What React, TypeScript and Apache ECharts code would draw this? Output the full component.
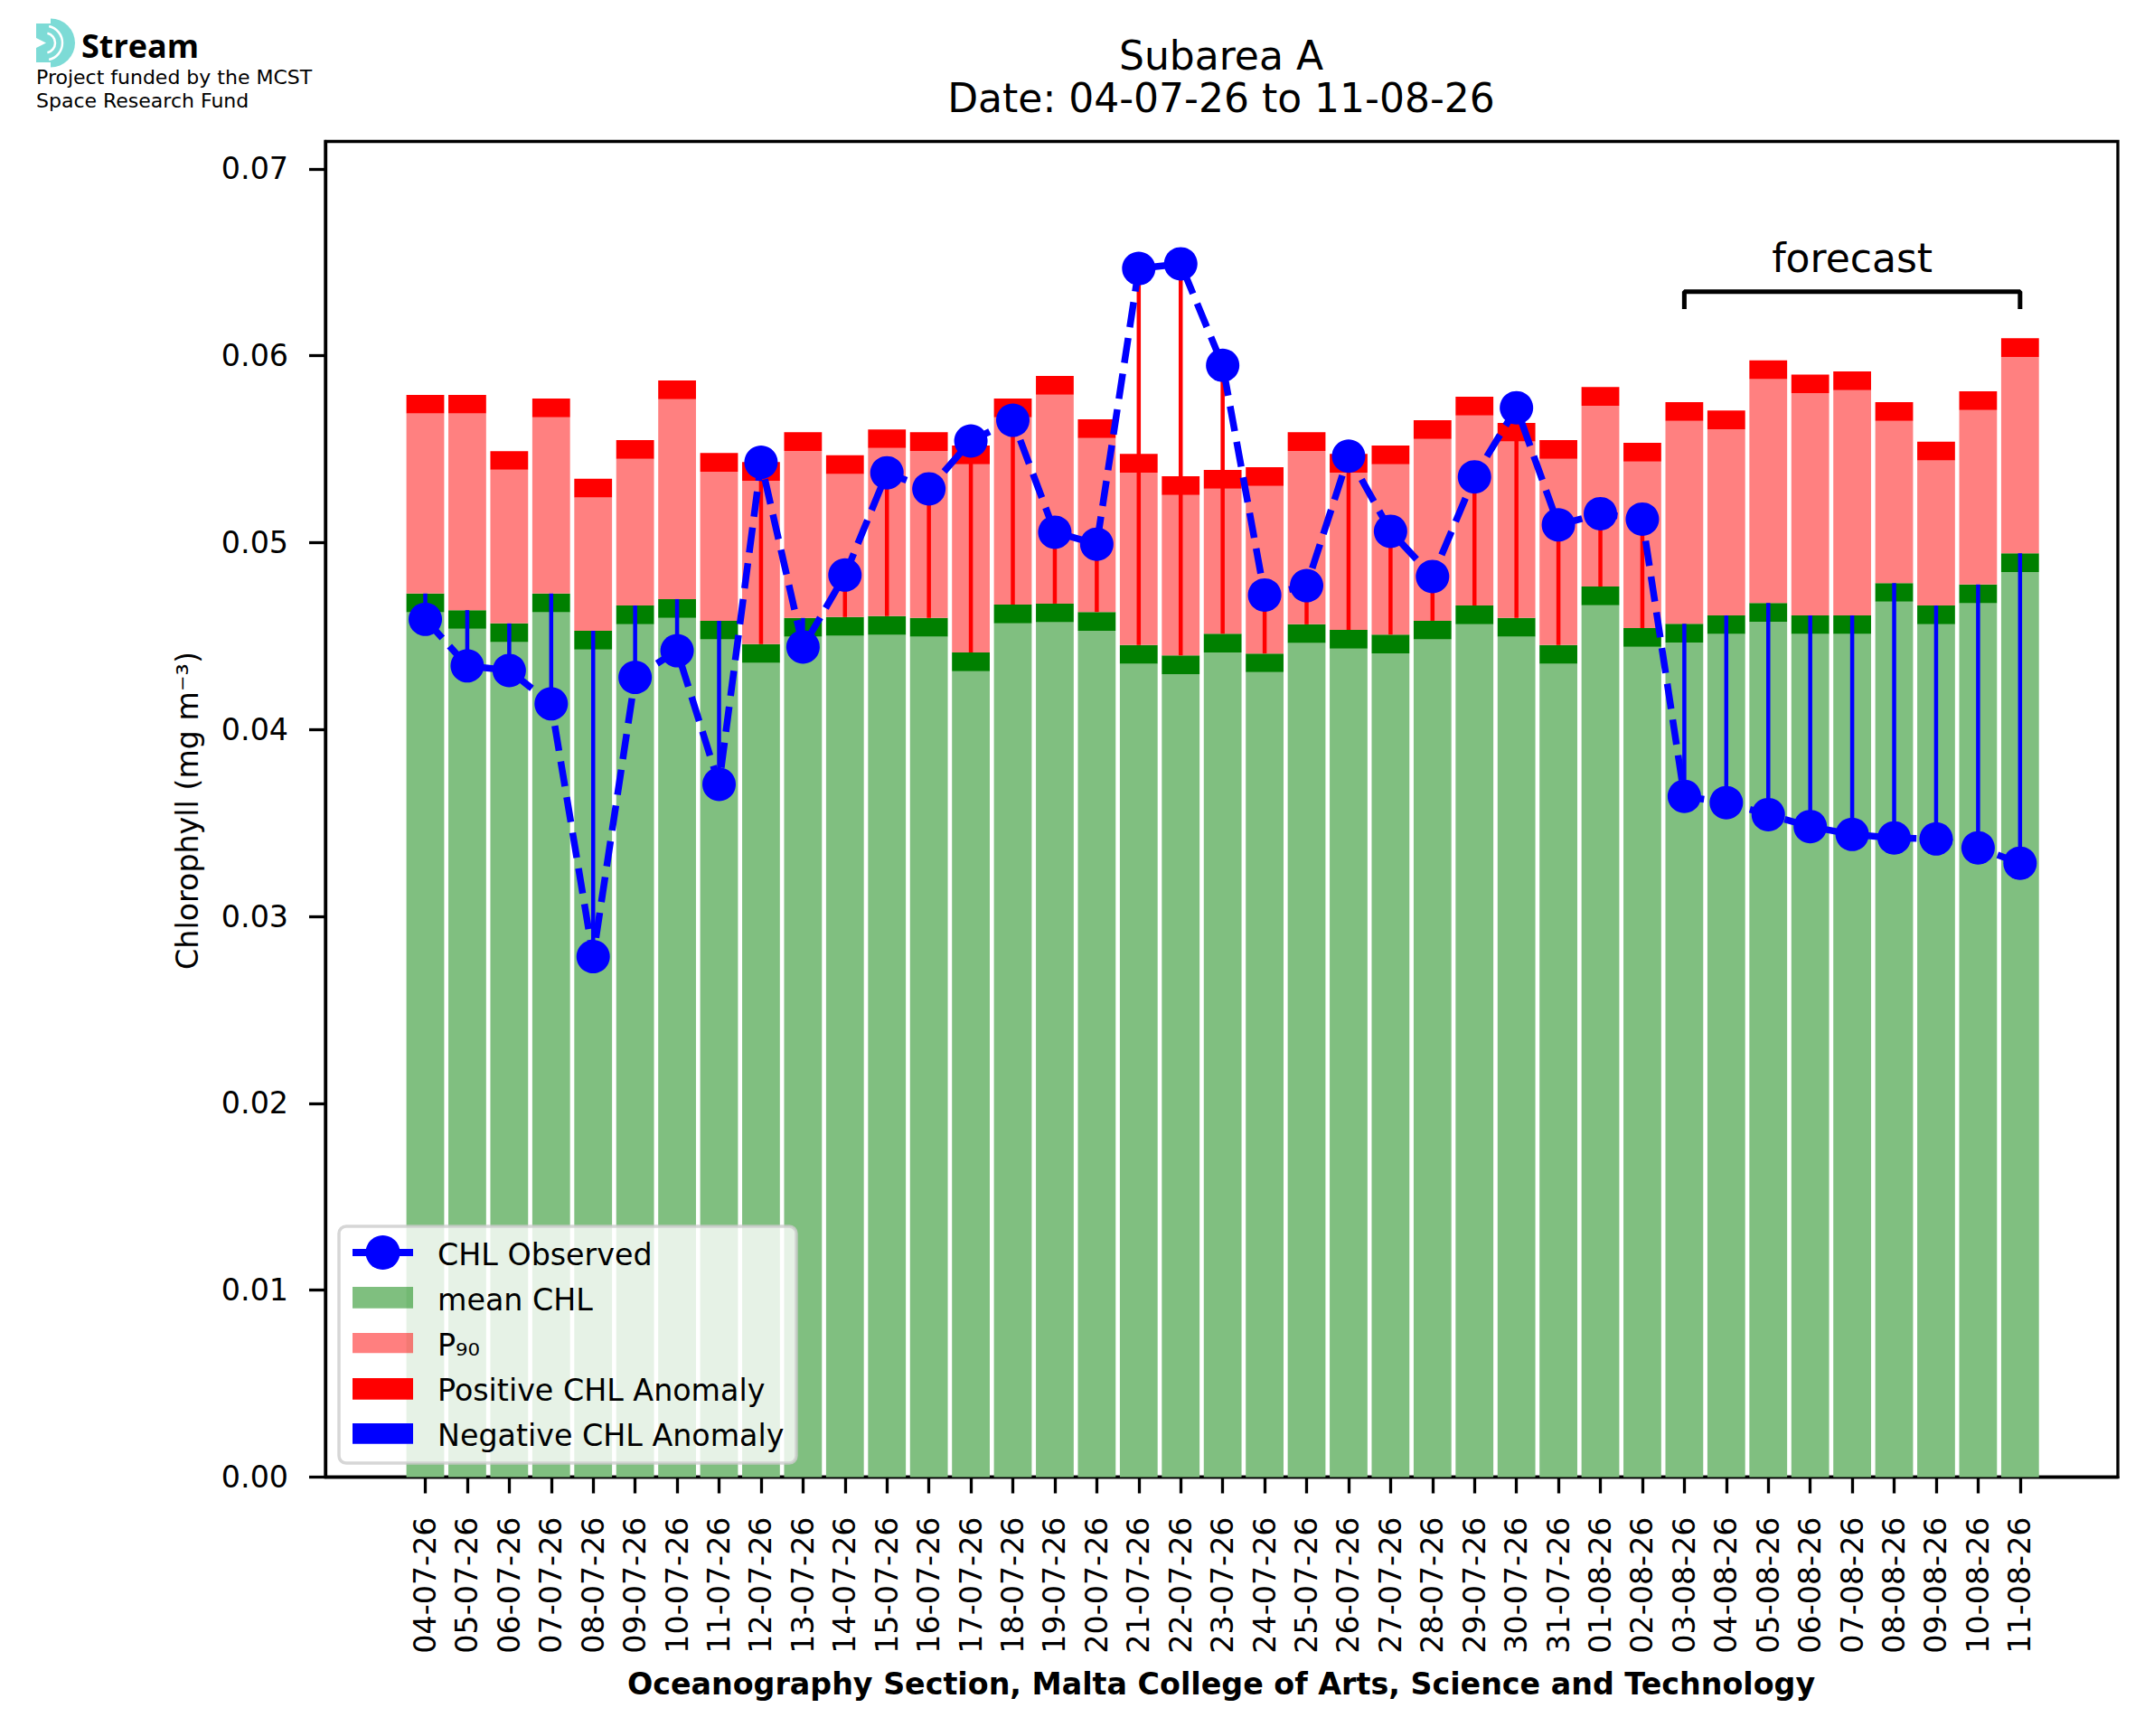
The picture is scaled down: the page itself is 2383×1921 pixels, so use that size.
import React, { useEffect, useRef } from "react";
import * as echarts from "echarts";

const dates = [
  "04-07-26", "05-07-26", "06-07-26", "07-07-26", "08-07-26", "09-07-26", "10-07-26",
  "11-07-26", "12-07-26", "13-07-26", "14-07-26", "15-07-26", "16-07-26", "17-07-26",
  "18-07-26", "19-07-26", "20-07-26", "21-07-26", "22-07-26", "23-07-26", "24-07-26",
  "25-07-26", "26-07-26", "27-07-26", "28-07-26", "29-07-26", "30-07-26", "31-07-26",
  "01-08-26", "02-08-26", "03-08-26", "04-08-26", "05-08-26", "06-08-26", "07-08-26",
  "08-08-26", "09-08-26", "10-08-26", "11-08-26",
];

// top of the mean CHL bar
const meanCHL = [
  0.04728, 0.04639, 0.04568, 0.04728, 0.04528, 0.04664, 0.04698, 0.04582, 0.04457, 0.04597,
  0.04602, 0.04607, 0.04597, 0.04412, 0.04669, 0.04674, 0.04629, 0.04452, 0.04397, 0.04513,
  0.04407, 0.04563, 0.04533, 0.04508, 0.04582, 0.04664, 0.04597, 0.04452, 0.04765, 0.04543,
  0.04566, 0.04611, 0.04677, 0.04611, 0.04611, 0.04784, 0.04664, 0.04776, 0.04943,
];

// top of the P90 bar
const p90 = [
  0.05791, 0.05791, 0.0549, 0.05771, 0.05342, 0.05549, 0.05868, 0.0548, 0.05431, 0.05591,
  0.05468, 0.05606, 0.05591, 0.0552, 0.05771, 0.05892, 0.0566, 0.05475, 0.05355, 0.05389,
  0.05404, 0.05591, 0.05475, 0.0552, 0.05655, 0.05781, 0.05641, 0.05549, 0.05833, 0.05534,
  0.05752, 0.05707, 0.05975, 0.059, 0.05916, 0.05752, 0.0554, 0.0581, 0.06094,
];

const observed = [
  0.0459, 0.04341, 0.04316, 0.04138, 0.02785, 0.04279, 0.04422, 0.03707, 0.0543, 0.04442,
  0.04827, 0.05374, 0.05288, 0.05544, 0.05655, 0.05056, 0.04992, 0.06467, 0.06492, 0.05949,
  0.0472, 0.0477, 0.05463, 0.05061, 0.04819, 0.05352, 0.05722, 0.05095, 0.05155, 0.05126,
  0.03643, 0.03609, 0.03545, 0.03481, 0.03439, 0.0342, 0.03415, 0.03367, 0.03285,
];

const yTicks = [0, 0.01, 0.02, 0.03, 0.04, 0.05, 0.06, 0.07];
const bandHeight = 0.001;
const forecastRange = [30, 38];
const forecastBracket = [0.0625, 0.06343];
const forecastLabelY = 0.06522;

const FONT = "DejaVu Sans";

export default function App() {
  const ref = useRef<HTMLDivElement>(null);

  useEffect(() => {
    document.body.style.margin = "0";
    const chart = echarts.init(ref.current as HTMLDivElement, null, { renderer: "svg" });
    const xIdx = dates.map((_, i) => i);

    const legendZ = 100;
    const lg = (el: any) => ({ ...el, z: legendZ });

    const option: any = {
      animation: false,
      backgroundColor: "#ffffff",
      textStyle: { fontFamily: FONT },
      grid: {
        left: 360,
        top: 156.5,
        width: 1983,
        height: 1478,
        show: true,
        borderColor: "#000",
        borderWidth: 3.3,
        backgroundColor: "transparent",
        containLabel: false,
        outerBoundsMode: "none",
      },
      xAxis: {
        type: "value",
        min: -2.38,
        max: 40.33,
        splitLine: { show: false },
        axisLine: { show: true, onZero: false, lineStyle: { color: "#000", width: 3.3 } },
        axisTick: { show: true, length: 18, lineStyle: { color: "#000", width: 3.3 }, customValues: xIdx },
        axisLabel: {
          customValues: xIdx,
          rotate: 90,
          margin: 44,
          fontSize: 33.3,
          color: "#000",
          fontFamily: FONT,
          formatter: (v: number) => dates[Math.round(v)] ?? "",
        },
      },
      yAxis: {
        type: "value",
        min: 0,
        max: 0.07147,
        splitLine: { show: false },
        axisLine: { show: true, onZero: false, lineStyle: { color: "#000", width: 3.3 } },
        axisTick: { show: true, length: 18, lineStyle: { color: "#000", width: 3.3 }, customValues: yTicks },
        axisLabel: {
          customValues: yTicks,
          margin: 41,
          fontSize: 33.3,
          color: "#000",
          fontFamily: FONT,
          formatter: (v: number) => v.toFixed(2),
        },
      },
      series: [
        {
          type: "custom",
          name: "bars",
          z: 1,
          silent: true,
          data: dates.map((_, i) => [i, meanCHL[i], p90[i]]),
          encode: { x: 0, y: [1, 2] },
          renderItem: (_p: any, api: any) => {
            const i = api.value(0);
            const m = api.value(1);
            const p = api.value(2);
            const w = api.size([0.9, 0])[0];
            const x0 = api.coord([i, 0])[0] - w / 2;
            const yy = (v: number) => api.coord([i, v])[1];
            const rect = (a: number, b: number, fill: string) => ({
              type: "rect",
              shape: { x: x0, y: yy(b), width: w, height: yy(a) - yy(b) },
              style: { fill },
            });
            return {
              type: "group",
              children: [
                rect(0, m - bandHeight, "#80bf80"),
                rect(m - bandHeight, m, "#008000"),
                rect(m, p - bandHeight, "#ff8080"),
                rect(p - bandHeight, p, "#ff0000"),
              ],
            };
          },
        },
        {
          type: "custom",
          name: "anomaly",
          z: 2,
          silent: true,
          data: dates.map((_, i) => [i, meanCHL[i], observed[i]]),
          encode: { x: 0, y: [1, 2] },
          renderItem: (_p: any, api: any) => {
            const i = api.value(0);
            const m = api.value(1);
            const o = api.value(2);
            const a = api.coord([i, m]);
            const b = api.coord([i, o]);
            return {
              type: "line",
              shape: { x1: a[0], y1: a[1], x2: b[0], y2: b[1] },
              style: { stroke: o >= m ? "#ff0000" : "#0000ff", lineWidth: 4.5 },
            };
          },
        },
        {
          type: "line",
          name: "CHL Observed",
          z: 3,
          data: dates.map((_, i) => [i, observed[i]]),
          symbol: "circle",
          symbolSize: 37,
          showSymbol: true,
          itemStyle: { color: "#0000ff" },
          lineStyle: { color: "#0000ff", width: 7.5, type: [28, 12] },
        },
        {
          type: "line",
          name: "forecast bracket",
          z: 3,
          silent: true,
          symbol: "none",
          data: [
            [forecastRange[0], forecastBracket[0]],
            [forecastRange[0], forecastBracket[1]],
            [forecastRange[1], forecastBracket[1]],
            [forecastRange[1], forecastBracket[0]],
          ],
          lineStyle: { color: "#000", width: 5 },
        },
        {
          type: "custom",
          name: "forecast label",
          z: 4,
          silent: true,
          data: [[(forecastRange[0] + forecastRange[1]) / 2, forecastLabelY]],
          encode: { x: 0, y: 1 },
          renderItem: (_p: any, api: any) => {
            const c = api.coord([api.value(0), api.value(1)]);
            return {
              type: "text",
              x: c[0],
              y: c[1],
              style: {
                text: "forecast",
                fontSize: 44,
                fontFamily: FONT,
                fill: "#000",
                align: "center",
                verticalAlign: "middle",
              },
            };
          },
        },
      ],
      graphic: [
        // Title
        {
          type: "text",
          x: 1351,
          y: 61.8,
          style: { text: "Subarea A", fontSize: 44, fontFamily: FONT, fill: "#000", align: "center", verticalAlign: "middle" },
        },
        {
          type: "text",
          x: 1351,
          y: 108.5,
          style: { text: "Date: 04-07-26 to 11-08-26", fontSize: 44, fontFamily: FONT, fill: "#000", align: "center", verticalAlign: "middle" },
        },
        // Axis titles
        {
          type: "text",
          x: 207,
          y: 897,
          rotation: Math.PI / 2,
          style: { text: "Chlorophyll (mg m⁻³)", fontSize: 33.3, fontFamily: FONT, fill: "#000", align: "center", verticalAlign: "middle" },
        },
        {
          type: "text",
          x: 1351,
          y: 1863,
          style: {
            text: "Oceanography Section, Malta College of Arts, Science and Technology",
            fontSize: 33.3,
            fontWeight: "bold",
            fontFamily: FONT,
            fill: "#000",
            align: "center",
            verticalAlign: "middle",
          },
        },
        // Logo
        { type: "rect", shape: { x: 40, y: 26, width: 18, height: 43 }, style: { fill: "#7ddbd6" } },
        { type: "sector", shape: { cx: 56, cy: 47.5, r: 27, r0: 0, startAngle: -Math.PI / 2, endAngle: Math.PI / 2 }, style: { fill: "#7ddbd6" } },
        { type: "arc", shape: { cx: 50, cy: 47.5, r: 11, startAngle: -1.35, endAngle: 1.35 }, style: { stroke: "#fff", lineWidth: 2.5, fill: "none" } },
        { type: "arc", shape: { cx: 50, cy: 47.5, r: 19, startAngle: -1.35, endAngle: 1.35 }, style: { stroke: "#fff", lineWidth: 2.5, fill: "none" } },
        { type: "polygon", shape: { points: [[40, 42], [40, 53], [51, 47.5]] }, style: { fill: "#fff" } },
        {
          type: "text",
          x: 90,
          y: 50,
          style: { text: "Stream", fontSize: 36, fontWeight: "bold", fontFamily: "Open Sans", fill: "#000", verticalAlign: "middle" },
        },
        {
          type: "text",
          x: 40,
          y: 85.1,
          style: { text: "Project funded by the MCST", fontSize: 22, fontFamily: FONT, fill: "#000", verticalAlign: "middle" },
        },
        {
          type: "text",
          x: 40,
          y: 111.7,
          style: { text: "Space Research Fund", fontSize: 22, fontFamily: FONT, fill: "#000", verticalAlign: "middle" },
        },
        // Legend
        lg({
          type: "rect",
          shape: { x: 375, y: 1357, width: 506, height: 262, r: 8 },
          style: { fill: "rgba(255,255,255,0.8)", stroke: "rgba(204,204,204,0.8)", lineWidth: 3.5 },
        }),
        lg({ type: "line", shape: { x1: 390, y1: 1386, x2: 457, y2: 1386 }, style: { stroke: "#0000ff", lineWidth: 8 } }),
        lg({ type: "circle", shape: { cx: 423.5, cy: 1386, r: 19 }, style: { fill: "#0000ff" } }),
        lg({ type: "rect", shape: { x: 390, y: 1424, width: 67, height: 23.7 }, style: { fill: "rgba(0,128,0,0.5)" } }),
        lg({ type: "rect", shape: { x: 390, y: 1475, width: 67, height: 22.3 }, style: { fill: "rgba(255,0,0,0.5)" } }),
        lg({ type: "rect", shape: { x: 390, y: 1525, width: 67, height: 23.7 }, style: { fill: "#ff0000" } }),
        lg({ type: "rect", shape: { x: 390, y: 1575, width: 67, height: 22.7 }, style: { fill: "#0000ff" } }),
        lg({ type: "text", x: 484, y: 1388, style: { text: "CHL Observed", fontSize: 33.3, fontFamily: FONT, fill: "#000", verticalAlign: "middle" } }),
        lg({ type: "text", x: 484, y: 1438.7, style: { text: "mean CHL", fontSize: 33.3, fontFamily: FONT, fill: "#000", verticalAlign: "middle" } }),
        lg({ type: "text", x: 484, y: 1488.7, style: { text: "P₉₀", fontSize: 33.3, fontFamily: FONT, fill: "#000", verticalAlign: "middle" } }),
        lg({ type: "text", x: 484, y: 1538.7, style: { text: "Positive CHL Anomaly", fontSize: 33.3, fontFamily: FONT, fill: "#000", verticalAlign: "middle" } }),
        lg({ type: "text", x: 484, y: 1588.7, style: { text: "Negative CHL Anomaly", fontSize: 33.3, fontFamily: FONT, fill: "#000", verticalAlign: "middle" } }),
      ],
    };

    chart.setOption(option);
    return () => chart.dispose();
  }, []);

  return <div ref={ref} style={{ width: 2383, height: 1921 }} />;
}
